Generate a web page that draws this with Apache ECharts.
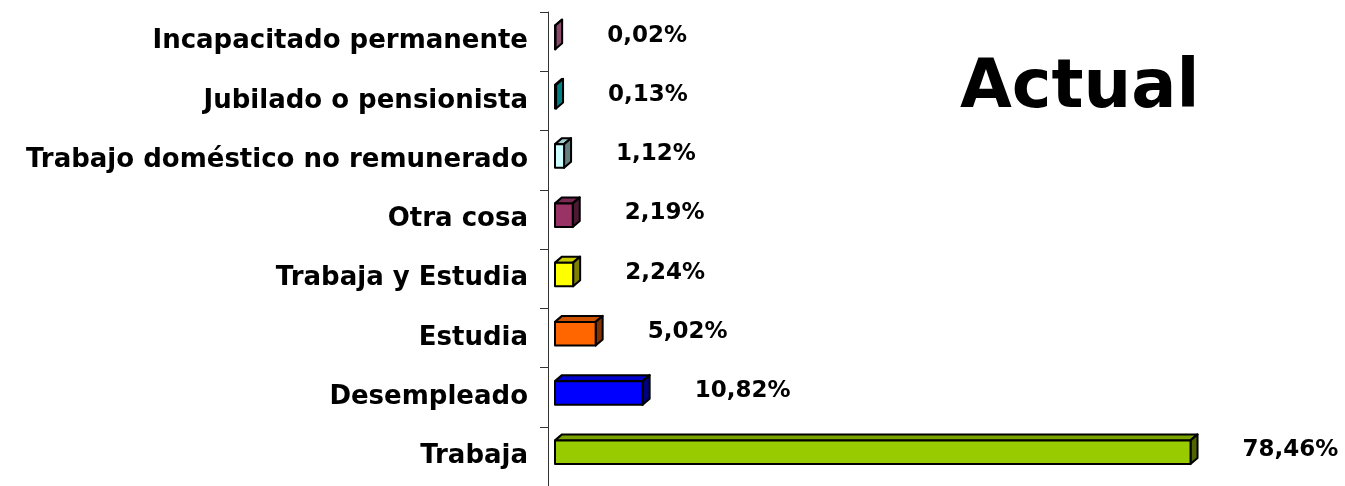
<!DOCTYPE html>
<html>
<head>
<meta charset="utf-8">
<title>Actual</title>
<script src="https://cdn.jsdelivr.net/npm/echarts@6/dist/echarts.min.js"></script>
<style>
    html, body { margin: 0; padding: 0; background: #fff; }
    #main { width: 1345px; height: 486px; }
</style>
</head>
<body>
<div id="main"></div>
<script>
    // datos (de abajo hacia arriba)
    var categorias = ['Trabaja', 'Desempleado', 'Estudia', 'Trabaja y Estudia', 'Otra cosa',
        'Trabajo doméstico no remunerado', 'Jubilado o pensionista', 'Incapacitado permanente'];
    var porcentajes = [78.46, 10.82, 5.02, 2.24, 2.19, 1.12, 0.13, 0.02];
    var titulo = 'Actual';

    // colores: frente, cara superior, lateral
    var frente = ['#99CC00', '#0000FF', '#FF6600', '#FFFF00', '#993366', '#CCFFFF', '#009999', '#B0608A'];
    var arriba = ['#7AA300', '#0000CC', '#CC5200', '#CCCC00', '#7A2952', '#A3CCCC', '#007A7A', '#8D4D6E'];
    var lado   = ['#4D6600', '#000080', '#803300', '#808000', '#4D1A33', '#668080', '#008080', '#8A4A6A'];

    var fuente = "'Century Gothic', 'URW Gothic', 'DejaVu Sans', sans-serif";
    var dx = 7, dy = 6, sep = 7;

    var datos = porcentajes.map(function (v, i) { return [v, i]; });

    function renderItem(params, api) {
        var i = api.value(1);
        var v = api.value(0);
        var p0 = api.coord([0, i]);
        var p1 = api.coord([v, i]);
        var banda = api.size([0, 1])[1];
        var x0 = p0[0] + sep, x1 = p1[0] + sep, yc = p0[1];
        var yT = yc - banda * 0.27, yB = yc + banda * 0.13;
        var borde = { stroke: '#000', lineWidth: 2, lineJoin: 'round' };
        return {
            type: 'group',
            children: [
                { type: 'polygon', shape: { points: [[x0, yT], [x0 + dx, yT - dy], [x1 + dx, yT - dy], [x1, yT]] },
                  style: Object.assign({ fill: arriba[i] }, borde) },
                { type: 'polygon', shape: { points: [[x1, yT], [x1 + dx, yT - dy], [x1 + dx, yB - dy], [x1, yB]] },
                  style: Object.assign({ fill: lado[i] }, borde) },
                { type: 'rect', shape: { x: x0, y: yT, width: Math.max(x1 - x0, 0.5), height: yB - yT },
                  style: Object.assign({ fill: frente[i] }, borde) },
                { type: 'text', x: x1 + 52, y: yc - 6,
                  style: { text: v.toFixed(2).replace('.', ',') + '%', fill: '#000',
                           font: 'bold 23px ' + fuente, textAlign: 'left', textVerticalAlign: 'middle' } }
            ]
        };
    }

    var chart = echarts.init(document.getElementById('main'));
    chart.setOption({
        animation: false,
        backgroundColor: '#fff',
        title: {
            text: titulo, left: 955, top: 51,
            textStyle: { fontFamily: fuente, fontWeight: 'bold', fontSize: 67, color: '#000' }
        },
        grid: { left: 548, right: 149, top: 12, bottom: -6 },
        xAxis: { type: 'value', min: 0, max: 80, show: false },
        yAxis: {
            type: 'category', data: categorias,
            axisLine: { show: true, lineStyle: { color: '#333', width: 1 } },
            axisTick: { show: true, length: 8, lineStyle: { color: '#333' } },
            axisLabel: { margin: 20, color: '#000', fontFamily: fuente, fontWeight: 'bold', fontSize: 26 },
            splitLine: { show: false }
        },
        series: [{
            type: 'custom', renderItem: renderItem, data: datos,
            encode: { x: 0, y: 1 }, clip: false
        }]
    });
</script>
</body>
</html>
